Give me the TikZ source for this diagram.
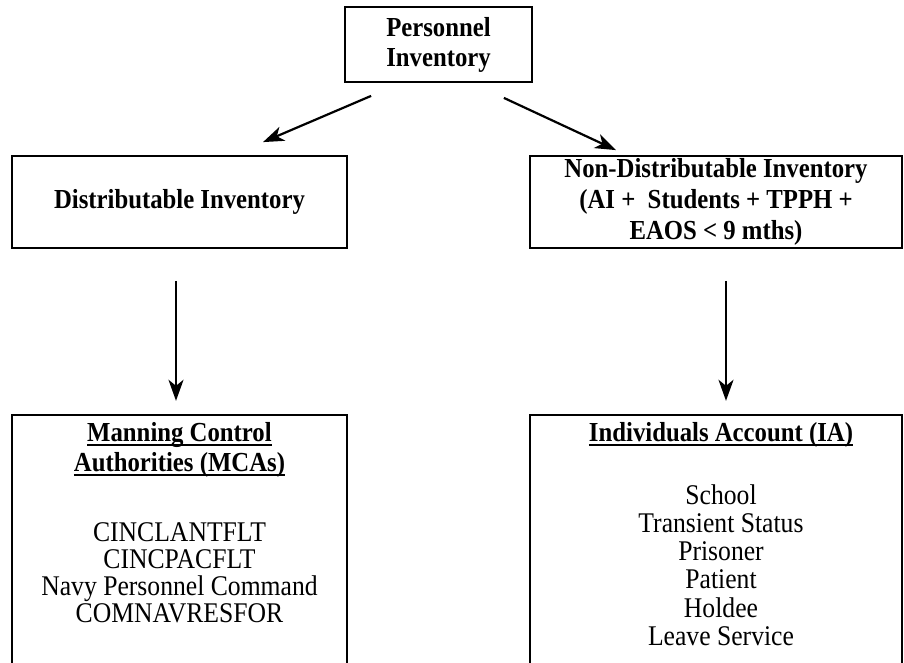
\documentclass[tikz,border=0pt]{standalone}
\usepackage{fontspec}
\setmainfont{Liberation Serif}[FakeStretch=0.9]
\usetikzlibrary{arrows.meta,calc}
\newcommand\ulbar[1]{\setbox0=\hbox{#1}\rlap{\rule[-5pt]{\wd0}{2.2pt}}\box0}
\begin{document}
\begin{tikzpicture}[x=1pt,y=-1pt,
  box/.style={draw,line width=1.8pt,inner sep=0pt,align=center},
  boxline/.style={line width=1.8pt},
  conn/.style={line width=2.2pt,-{Stealth[length=21pt,width=15pt,inset=6pt]}},
  hd/.style={font=\fontsize{27.5}{30}\selectfont\bfseries},
  hdl/.style={font=\fontsize{27.5}{30}\selectfont\bfseries,anchor=base,inner sep=0pt},
  ls/.style={font=\fontsize{28.5}{28}\selectfont,anchor=base,inner sep=0pt}]
\path[use as bounding box,clip] (0,0) rectangle (904,662);
% boxes
\node[box,hd,minimum width=187pt,minimum height=75pt] (top) at (438.5,44.5) {Personnel\\Inventory};
\node[box,hd,minimum width=335pt,minimum height=92pt] (dist) at (179.5,202) {Distributable Inventory};
\node[box,font=\fontsize{27.5}{31}\selectfont\bfseries,minimum width=372pt,minimum height=92pt] (nondist) at (716,202) {Non-Distributable Inventory\\(AI + \ Students + TPPH +\\EAOS < 9 mths)};
\node[minimum width=335pt,minimum height=300pt,inner sep=0pt] (mca) at (179.5,565) {};
\node[minimum width=372pt,minimum height=300pt,inner sep=0pt] (ia) at (716,565) {};
\draw[boxline] (mca.south west) -- (mca.north west) -- (mca.north east) -- (mca.south east);
\draw[boxline] (ia.south west) -- (ia.north west) -- (ia.north east) -- (ia.south east);
% texts of the lower boxes
\node[hdl] (mcah1) at (179.5,441) {\ulbar{Manning Control}};
\node[hdl] (mcah2) at (179.5,471) {\ulbar{Authorities (MCAs)}};
\node[ls] (m1) at (179.5,541) {CINCLANTFLT};
\node[ls] (m2) at (179.5,568) {CINCPACFLT};
\node[ls] (m3) at (179.5,595) {Navy Personnel Command};
\node[ls] (m4) at (179.5,622) {COMNAVRESFOR};
\node[hdl] (iah) at (721,441) {\ulbar{Individuals Account (IA)}};
\node[ls] (i1) at (721,504) {School};
\node[ls] (i2) at (721,532) {Transient Status};
\node[ls] (i3) at (721,560) {Prisoner};
\node[ls] (i4) at (721,588) {Patient};
\node[ls] (i5) at (721,617) {Holdee};
\node[ls] (i6) at (721,645) {Leave Service};
% connector ends
\coordinate (a1s) at ($(top.south west)+(27,13)$);
\coordinate (a1e) at ($(dist.north)+(83.5,-13)$);
\coordinate (a2s) at ($(top.south east)+(-29,15)$);
\coordinate (a2e) at ($(nondist.north)+(-100,-5)$);
\coordinate (a3s) at ($(dist.south)+(-3.5,32)$);
\coordinate (a3e) at ($(mca.north)+(-3.5,-14)$);
\coordinate (a4s) at ($(nondist.south)+(10,32)$);
\coordinate (a4e) at ($(ia.north)+(10,-14)$);
\draw[conn] (a1s) -- (a1e);
\draw[conn] (a2s) -- (a2e);
\draw[conn] (a3s) -- (a3e);
\draw[conn] (a4s) -- (a4e);
\end{tikzpicture}
\end{document}
